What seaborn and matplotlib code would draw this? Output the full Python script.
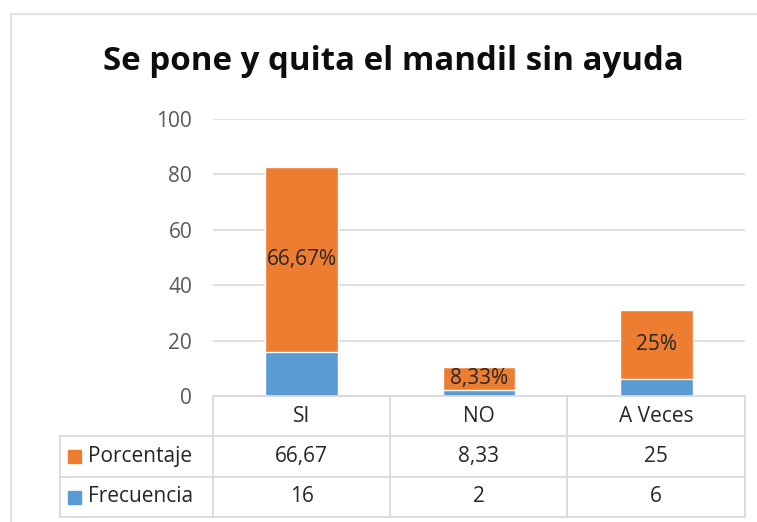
import matplotlib.pyplot as plt
from matplotlib.patches import Rectangle
from matplotlib.lines import Line2D
import seaborn as sns
import pandas as pd

categorias = ['SI', 'NO', 'A Veces']
frecuencia = [16, 2, 6]
porcentaje = [66.67, 8.33, 25]
etiquetas_pct = ['66,67%', '8,33%', '25%']
texto_pct = ['66,67', '8,33', '25']
texto_frec = ['16', '2', '6']
yticks = [0, 20, 40, 60, 80, 100]

NARANJA = '#ED7D31'
AZUL = '#5B9BD5'
GRIS_TXT = '#595959'
GRIS_LINEA = '#D9D9D9'
FS = 15

sns.set_style('white')
plt.rcParams['font.family'] = ['Open Sans', 'DejaVu Sans']

W, H = 757, 522
fig = plt.figure(figsize=(W / 100, H / 100), dpi=100)


def fx(px):
    return px / W


def fy(py):
    return 1 - py / H


# marco exterior del gráfico
fig.add_artist(Line2D([fx(11), 1], [fy(14), fy(14)], color='#E3E3E3', lw=1.5))
fig.add_artist(Line2D([fx(11), fx(11)], [fy(14), 0], color='#E3E3E3', lw=1.5))

x0, x1 = 213, 745
y_top, y_zero = 119, 396
ax = fig.add_axes([fx(x0), fy(y_zero), fx(x1) - fx(x0), fy(y_top) - fy(y_zero)])

df = pd.DataFrame({
    'cat': categorias,
    'frec': frecuencia,
    'total': [f + p for f, p in zip(frecuencia, porcentaje)],
})

sns.barplot(data=df, x='cat', y='total', color=NARANJA, width=0.41,
            saturation=1, ax=ax, zorder=3)
sns.barplot(data=df, x='cat', y='frec', color=AZUL, width=0.41,
            saturation=1, ax=ax, zorder=3)

for i, (f, p, lab) in enumerate(zip(frecuencia, porcentaje, etiquetas_pct)):
    ax.text(i, f + p / 2, lab, ha='center', va='center',
            fontsize=FS, color='#262626', zorder=4)

ax.set_ylim(0, 100)
ax.set_xlim(-0.5, 2.5)
ax.set_yticks(yticks)
ax.set_yticklabels([str(t) for t in yticks], fontsize=FS, color=GRIS_TXT)
ax.tick_params(axis='y', length=0, pad=15)
ax.set_xticks([])
ax.set_xlabel('')
ax.set_ylabel('')
ax.grid(axis='y', color=GRIS_LINEA, lw=1.2, zorder=0)
for s in ax.spines.values():
    s.set_visible(False)

fig.text(fx(393), fy(62), 'Se pone y quita el mandil sin ayuda',
         ha='center', va='center', fontsize=23.8, fontweight='bold', color='#0D0D0D')

# tabla de datos
leg_x = 60
cols = [213, 390, 567, 745]
rows = [396, 436, 477, 517]
kw = dict(color=GRIS_LINEA, lw=1.3)
fig.add_artist(Line2D([fx(cols[0]), fx(cols[-1])], [fy(rows[0])] * 2, **kw))
for r in rows[1:]:
    fig.add_artist(Line2D([fx(leg_x), fx(cols[-1])], [fy(r)] * 2, **kw))
for c in cols:
    fig.add_artist(Line2D([fx(c)] * 2, [fy(rows[0]), fy(rows[-1])], **kw))
fig.add_artist(Line2D([fx(leg_x)] * 2, [fy(rows[1]), fy(rows[-1])], **kw))

for i, cat in enumerate(categorias):
    cx = (cols[i] + cols[i + 1]) / 2
    fig.text(fx(cx), fy((rows[0] + rows[1]) / 2), cat, ha='center', va='center',
             fontsize=FS, color='#262626')
    fig.text(fx(cx), fy((rows[1] + rows[2]) / 2), texto_pct[i], ha='center',
             va='center', fontsize=FS, color='#262626')
    fig.text(fx(cx), fy((rows[2] + rows[3]) / 2), texto_frec[i], ha='center',
             va='center', fontsize=FS, color='#262626')

for (nombre, color), r in zip([('Porcentaje', NARANJA), ('Frecuencia', AZUL)],
                             [(rows[1] + rows[2]) / 2, (rows[2] + rows[3]) / 2]):
    fig.add_artist(Rectangle((fx(68), fy(r + 6.5)), fx(13), fy(0) - fy(13),
                             color=color, transform=fig.transFigure))
    fig.text(fx(88), fy(r), nombre, ha='left', va='center',
             fontsize=FS, color='#262626')

fig.savefig('out.png', dpi=100)
